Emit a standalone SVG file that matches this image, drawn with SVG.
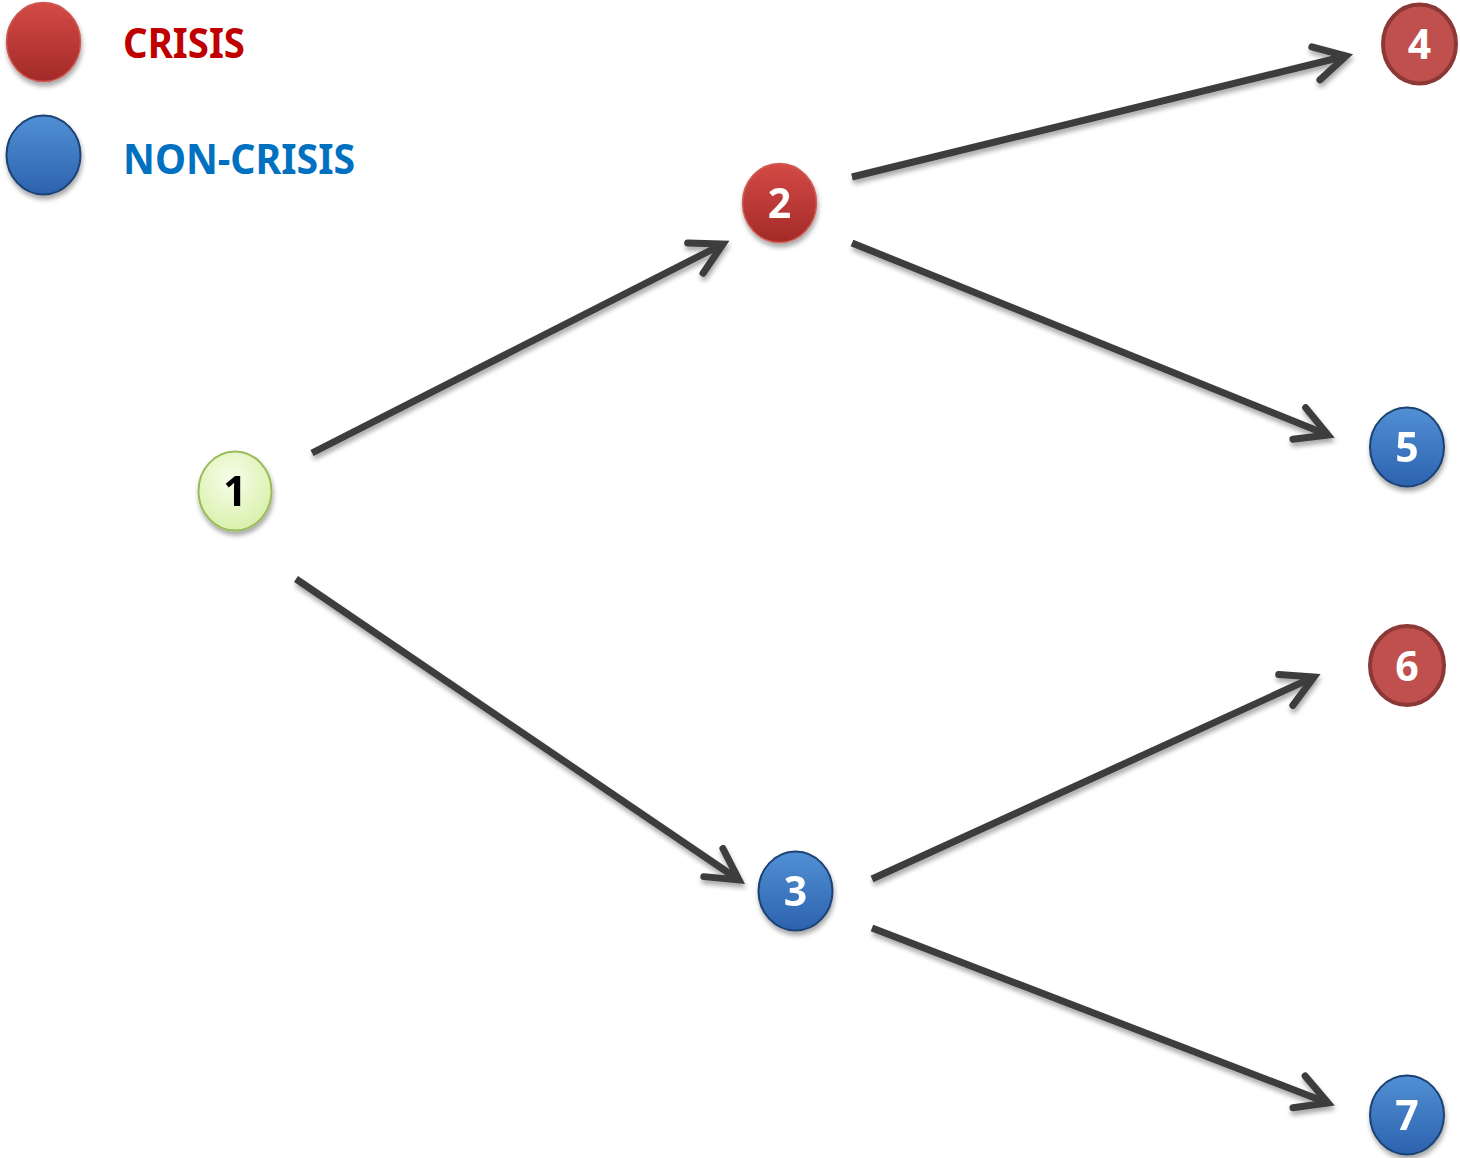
<svg xmlns="http://www.w3.org/2000/svg" width="1460" height="1158" viewBox="0 0 1460 1158">
  <style>
    .num { font-family: "Noto Sans", "Open Sans", "Liberation Sans", sans-serif; font-weight: 700; font-size: 41px; text-anchor: middle; fill: #ffffff; }
    .num.dark { fill: #000000; }
    .legend { font-family: "Noto Sans", "Open Sans", "Liberation Sans", sans-serif; font-weight: 700; font-size: 42px; }
    .edge { fill: none; stroke: #3c3c3c; stroke-width: 7; marker-end: url(#head); }
  </style>
  <defs>
    <marker id="head" markerUnits="userSpaceOnUse" markerWidth="50" markerHeight="50" viewBox="-40 -25 50 50" refX="0" refY="0" orient="auto">
      <path d="M -31 -17 L 0 0 L -31 17" fill="none" stroke="#3c3c3c" stroke-width="7" stroke-linecap="round" stroke-linejoin="miter"/>
    </marker>
    <filter id="shadow" x="-30%" y="-30%" width="160%" height="170%">
      <feGaussianBlur in="SourceAlpha" stdDeviation="2.5"/>
      <feOffset dx="1" dy="4" result="b"/>
      <feComponentTransfer><feFuncA type="linear" slope="0.35"/></feComponentTransfer>
      <feMerge><feMergeNode/><feMergeNode in="SourceGraphic"/></feMerge>
    </filter>
    <linearGradient id="gRed" x1="0" y1="0" x2="0" y2="1">
      <stop offset="0" stop-color="#d44a45"/>
      <stop offset="1" stop-color="#a32a28"/>
    </linearGradient>
    <linearGradient id="gBlue" x1="0" y1="0" x2="0" y2="1">
      <stop offset="0" stop-color="#5290d4"/>
      <stop offset="1" stop-color="#2c62ae"/>
    </linearGradient>
    <radialGradient id="gGreen" cx="0.45" cy="0.35" r="0.7">
      <stop offset="0" stop-color="#f7fde9"/>
      <stop offset="1" stop-color="#d6f0a8"/>
    </radialGradient>
  </defs>

  <!-- legend -->
  <g id="legend-crisis" filter="url(#shadow)">
    <ellipse cx="43.5" cy="42" rx="37" ry="39.5" fill="url(#gRed)" stroke="#c95a55" stroke-width="1.5"/>
  </g>
  <text class="legend" x="123" y="58" fill="#c00000" textLength="122" lengthAdjust="spacingAndGlyphs">CRISIS</text>
  <g id="legend-noncrisis" filter="url(#shadow)">
    <ellipse cx="43.5" cy="155" rx="37" ry="39.5" fill="url(#gBlue)" stroke="#1d4273" stroke-width="2"/>
  </g>
  <text class="legend" x="123" y="174" fill="#0070c0" textLength="232" lengthAdjust="spacingAndGlyphs">NON-CRISIS</text>

  <!-- connectors -->
  <g id="edges" filter="url(#shadow)">
    <line class="edge" x1="312" y1="453" x2="723" y2="244"/>
    <line class="edge" x1="296" y1="579" x2="739" y2="880"/>
    <line class="edge" x1="852" y1="177" x2="1346" y2="56"/>
    <line class="edge" x1="852" y1="243" x2="1328" y2="435"/>
    <line class="edge" x1="872" y1="879" x2="1314" y2="677"/>
    <line class="edge" x1="872" y1="928" x2="1328" y2="1103"/>
  </g>

  <!-- nodes -->
  <g id="node-1" filter="url(#shadow)">
    <ellipse cx="235" cy="491" rx="36.5" ry="39.5" fill="url(#gGreen)" stroke="#9bbb59" stroke-width="2"/>
    <text class="num dark" x="235" y="506">1</text>
  </g>
  <g id="node-2" filter="url(#shadow)">
    <ellipse cx="779.5" cy="203" rx="37" ry="39.5" fill="url(#gRed)" stroke="#cf5d58" stroke-width="1.5"/>
    <text class="num" x="779.5" y="218">2</text>
  </g>
  <g id="node-3" filter="url(#shadow)">
    <ellipse cx="795.5" cy="891" rx="37" ry="39.5" fill="url(#gBlue)" stroke="#1d4273" stroke-width="2"/>
    <text class="num" x="795.5" y="906">3</text>
  </g>
  <g id="node-4">
    <ellipse cx="1419.5" cy="44" rx="36.5" ry="39.5" fill="#c0504d" stroke="#8c3836" stroke-width="4"/>
    <text class="num" x="1419.5" y="59">4</text>
  </g>
  <g id="node-5" filter="url(#shadow)">
    <ellipse cx="1407" cy="447" rx="37" ry="39.5" fill="url(#gBlue)" stroke="#1d4273" stroke-width="2"/>
    <text class="num" x="1407" y="462">5</text>
  </g>
  <g id="node-6">
    <ellipse cx="1407" cy="665.5" rx="37" ry="39.5" fill="#c0504d" stroke="#8c3836" stroke-width="4"/>
    <text class="num" x="1407" y="680.5">6</text>
  </g>
  <g id="node-7" filter="url(#shadow)">
    <ellipse cx="1407" cy="1115" rx="37" ry="39.5" fill="url(#gBlue)" stroke="#1d4273" stroke-width="2"/>
    <text class="num" x="1407" y="1130">7</text>
  </g>
</svg>
